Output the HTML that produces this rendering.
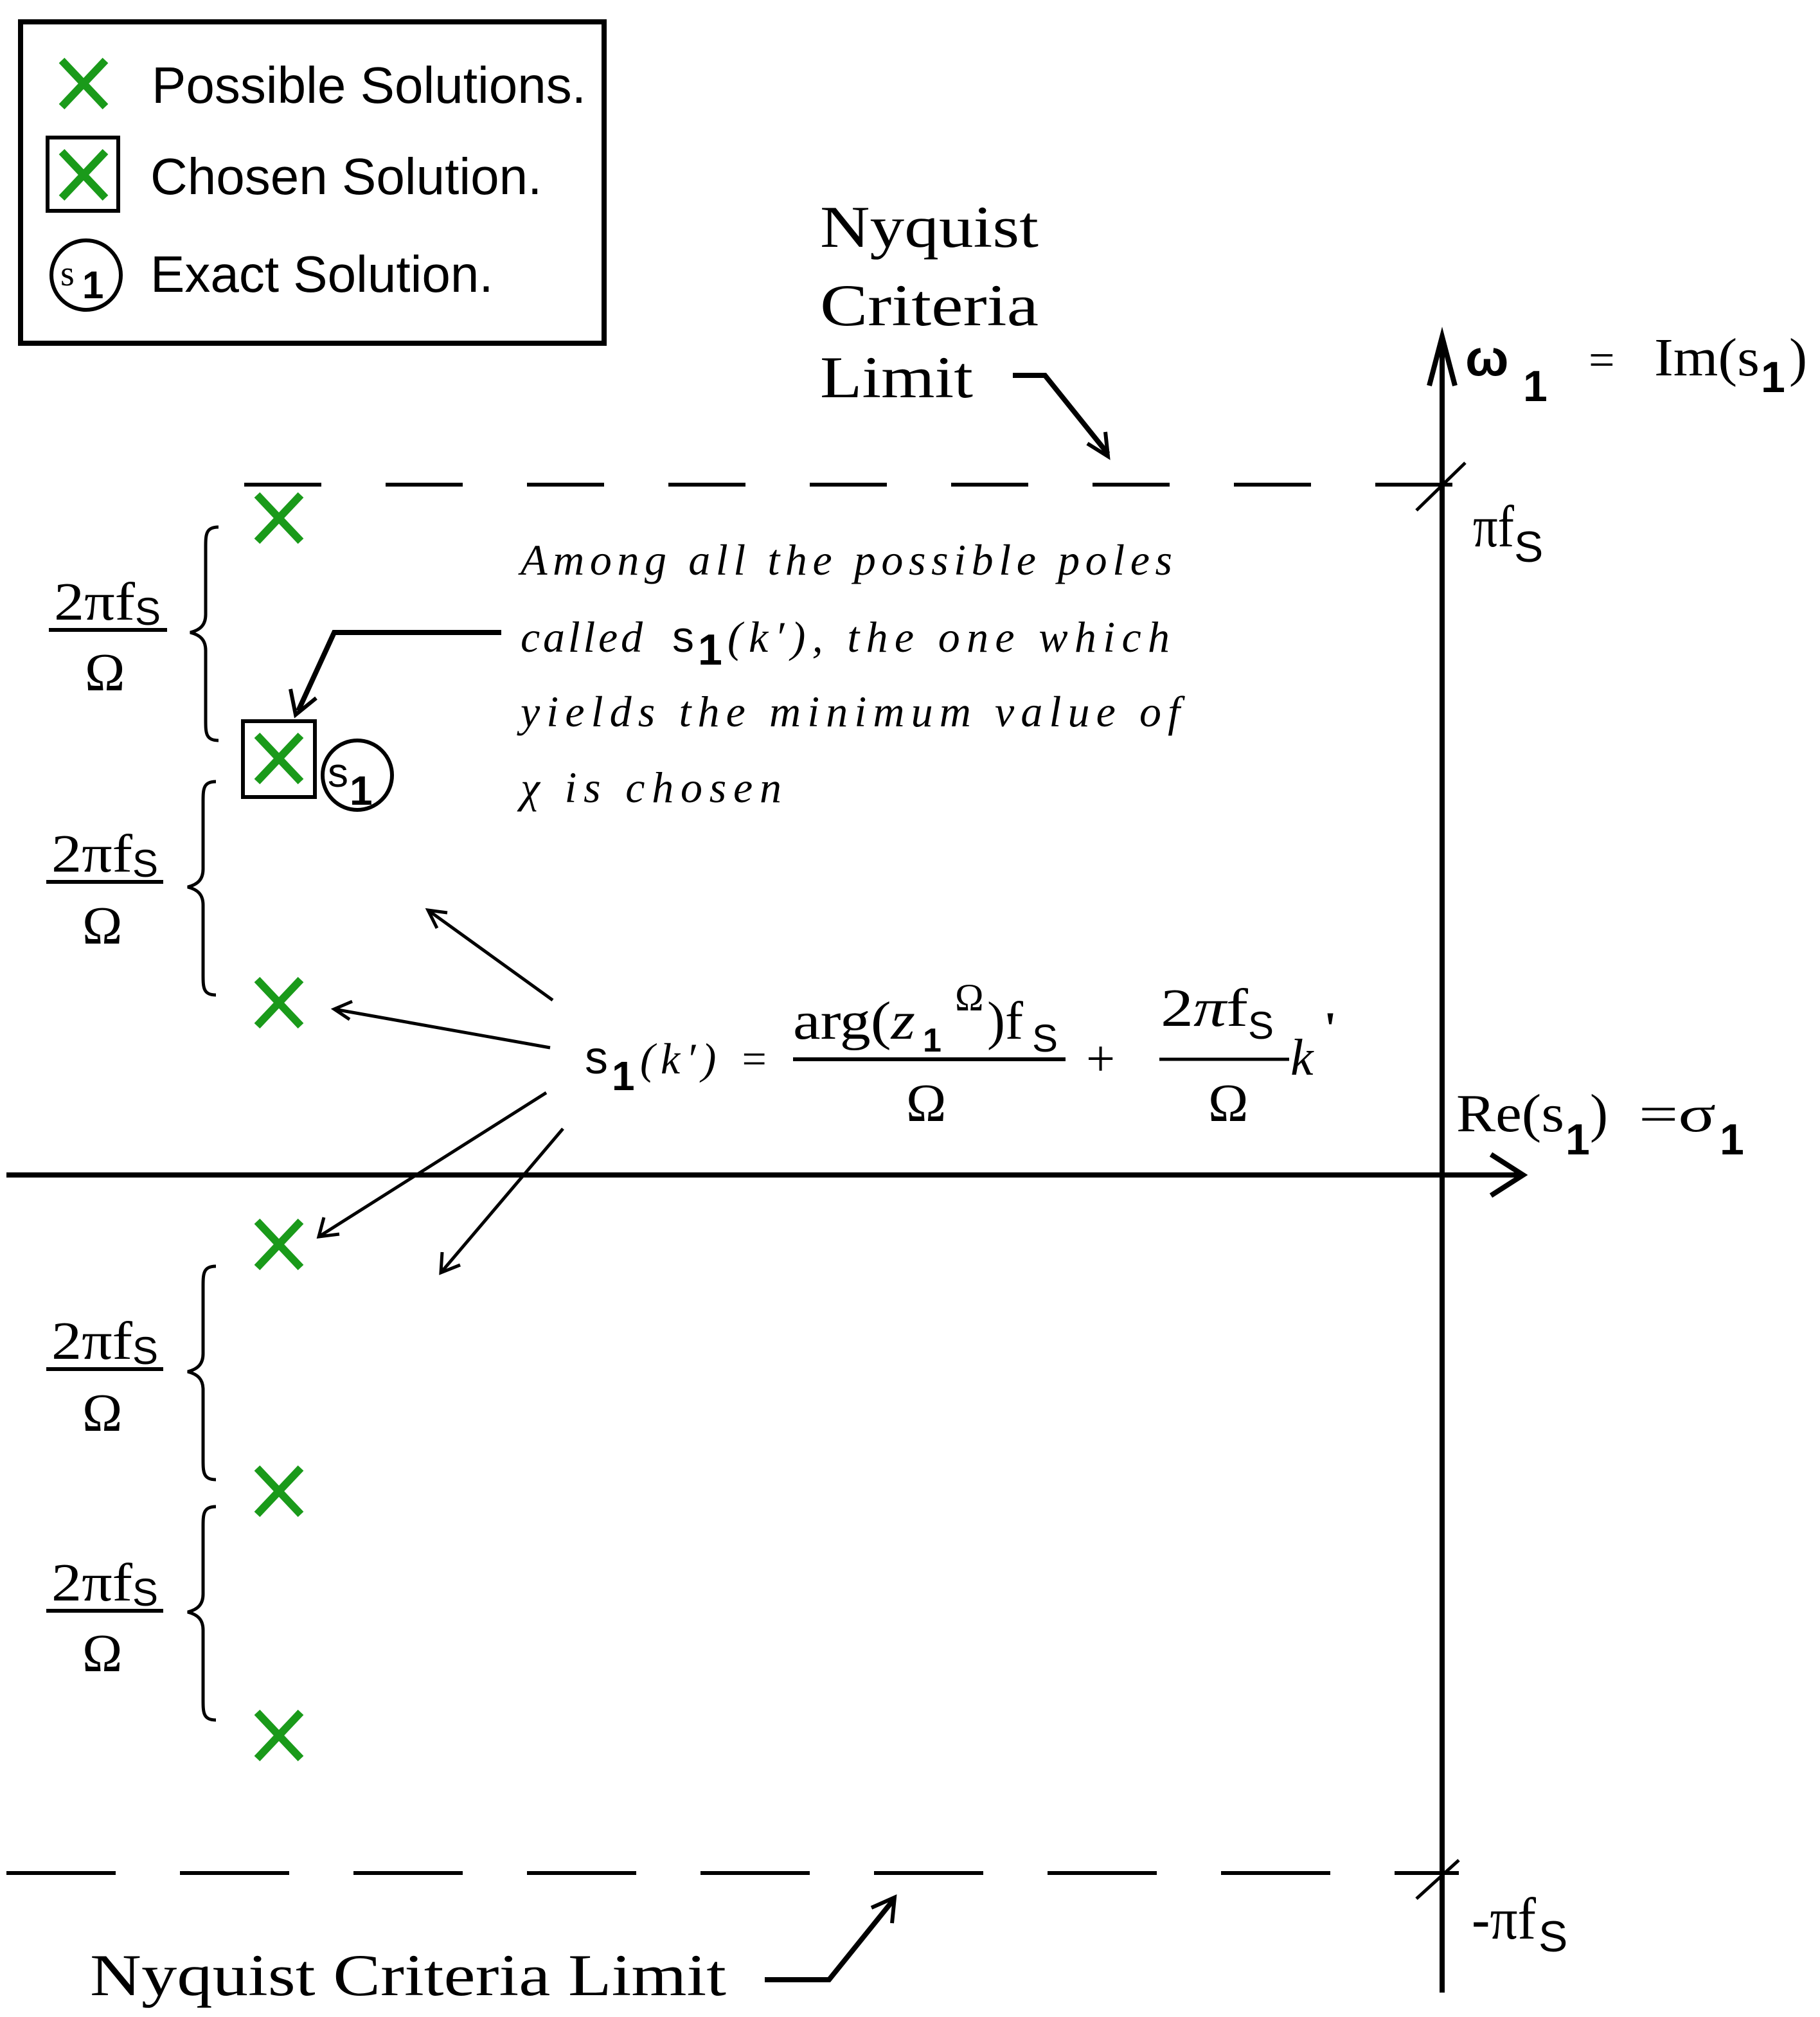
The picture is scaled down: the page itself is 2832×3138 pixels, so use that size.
<!DOCTYPE html>
<html><head><style>html,body{margin:0;padding:0;background:#fff}svg{display:block}</style></head>
<body>
<svg width="2832" height="3138" viewBox="0 0 1416 1569" xmlns="http://www.w3.org/2000/svg">
<defs>
<g id="x"><path d="M-17,-18 L17,18 M17,-18 L-17,18" stroke="#1a9a1a" stroke-width="6" fill="none"/></g>
<path id="brace" d="M10,0 C0,0 0,6 0,16 L0,68 C0,76 -4,80 -12,82 C-4,84 0,88 0,96 L0,150 C0,160 0,166 10,166" fill="none" stroke="#000" stroke-width="2.5"/>
</defs>
<g font-family="Liberation Sans, sans-serif">
<rect x="16" y="17" width="454" height="250" fill="none" stroke="#000" stroke-width="4"/>
<use href="#x" x="65" y="65"/>
<text x="118" y="80" font-size="40">Possible Solutions.</text>
<rect x="37" y="107" width="55" height="57" fill="none" stroke="#000" stroke-width="3"/>
<use href="#x" x="65" y="136"/>
<text x="117" y="151" font-size="40">Chosen Solution.</text>
<circle cx="67" cy="214" r="27" fill="none" stroke="#000" stroke-width="3"/>
<text x="47" y="222" font-size="28" font-family="Liberation Serif, serif">s</text>
<text x="64" y="232" font-size="30" font-weight="bold">1</text>
<text x="117" y="227" font-size="40">Exact Solution.</text>
</g>
<g font-family="Liberation Serif, serif">
<line x1="1122" y1="268" x2="1122" y2="1550" stroke="#000" stroke-width="4"/>
<path d="M1112,300 L1122,262 L1132,300" fill="none" stroke="#000" stroke-width="4"/>
<line x1="5" y1="914" x2="1183" y2="914" stroke="#000" stroke-width="4"/>
<path d="M1160,898 L1185,914 L1160,930" fill="none" stroke="#000" stroke-width="4"/>
<line x1="190" y1="377" x2="1180" y2="377" stroke="#000" stroke-width="3" stroke-dasharray="60,50"/>
<line x1="5" y1="1457" x2="1135" y2="1457" stroke="#000" stroke-width="3" stroke-dasharray="85,50"/>
<line x1="1102" y1="397" x2="1140" y2="360" stroke="#000" stroke-width="2.5"/>
<line x1="1102" y1="1477" x2="1135" y2="1447" stroke="#000" stroke-width="2.5"/>
<text x="1140" y="292" font-size="40" font-weight="bold" font-family="Liberation Sans, sans-serif">ω</text>
<text x="1185" y="312" font-size="34" font-weight="bold" font-family="Liberation Sans, sans-serif">1</text>
<text x="1236" y="292" font-size="36">=</text>
<text x="1287" y="292" font-size="42" textLength="82" lengthAdjust="spacingAndGlyphs">Im(s</text>
<text x="1370" y="305" font-size="34" font-weight="bold" font-family="Liberation Sans, sans-serif">1</text>
<text x="1392" y="292" font-size="42">)</text>
<text x="1146" y="425" font-size="46" textLength="32" lengthAdjust="spacingAndGlyphs">πf</text>
<text x="1178" y="437" font-size="34" font-family="Liberation Sans, sans-serif">S</text>
<text x="1145" y="1508" font-size="46" textLength="50" lengthAdjust="spacingAndGlyphs">-πf</text>
<text x="1197" y="1518" font-size="34" font-family="Liberation Sans, sans-serif">S</text>
<text x="1133" y="880" font-size="42" textLength="84" lengthAdjust="spacingAndGlyphs">Re(s</text>
<text x="1218" y="898" font-size="34" font-weight="bold" font-family="Liberation Sans, sans-serif">1</text>
<text x="1237" y="880" font-size="42">)</text>
<text x="1275" y="880" font-size="40" textLength="60" lengthAdjust="spacingAndGlyphs">=σ</text>
<text x="1338" y="898" font-size="34" font-weight="bold" font-family="Liberation Sans, sans-serif">1</text>
<text x="638" y="192" font-size="46" textLength="170" lengthAdjust="spacingAndGlyphs">Nyquist</text>
<text x="638" y="253" font-size="46" textLength="170" lengthAdjust="spacingAndGlyphs">Criteria</text>
<text x="638" y="309" font-size="46" textLength="119" lengthAdjust="spacingAndGlyphs">Limit</text>
<path d="M788,292 L813,292 L862,353" fill="none" stroke="#000" stroke-width="4"/>
<path d="M846,345 L862,355 L860,336" fill="none" stroke="#000" stroke-width="3"/>
<text x="70" y="1552" font-size="46" textLength="495" lengthAdjust="spacingAndGlyphs">Nyquist Criteria Limit</text>
<path d="M595,1540 L645,1540 L695,1478" fill="none" stroke="#000" stroke-width="4"/>
<path d="M678,1484 L696,1476 L694,1496" fill="none" stroke="#000" stroke-width="3"/>
<use href="#x" x="217" y="403"/>
<use href="#x" x="217" y="590"/>
<rect x="189" y="561" width="56" height="59" fill="none" stroke="#000" stroke-width="3"/>
<circle cx="278" cy="603" r="27" fill="none" stroke="#000" stroke-width="3"/>
<text x="255" y="612" font-size="32" font-family="Liberation Sans, sans-serif">s</text>
<text x="272" y="626" font-size="32" font-weight="bold" font-family="Liberation Sans, sans-serif">1</text>
<use href="#x" x="217" y="780"/>
<use href="#x" x="217" y="968"/>
<use href="#x" x="217" y="1160"/>
<use href="#x" x="217" y="1350"/>
<use href="#brace" x="160" y="410"/>
<use href="#brace" x="158" y="608"/>
<use href="#brace" x="158" y="985"/>
<use href="#brace" x="158" y="1172"/>
<g font-size="42">
<text x="42" y="482" textLength="63" lengthAdjust="spacingAndGlyphs">2πf</text><text x="105" y="486" font-size="30" font-family="Liberation Sans, sans-serif">S</text>
<line x1="38" y1="490" x2="130" y2="490" stroke="#000" stroke-width="3"/>
<text x="66" y="537">Ω</text>
<text x="40" y="678" textLength="63" lengthAdjust="spacingAndGlyphs">2πf</text><text x="103" y="682" font-size="30" font-family="Liberation Sans, sans-serif">S</text>
<line x1="36" y1="686" x2="127" y2="686" stroke="#000" stroke-width="3"/>
<text x="64" y="734">Ω</text>
<text x="40" y="1057" textLength="63" lengthAdjust="spacingAndGlyphs">2πf</text><text x="103" y="1061" font-size="30" font-family="Liberation Sans, sans-serif">S</text>
<line x1="36" y1="1065" x2="127" y2="1065" stroke="#000" stroke-width="3"/>
<text x="64" y="1113">Ω</text>
<text x="40" y="1245" textLength="63" lengthAdjust="spacingAndGlyphs">2πf</text><text x="103" y="1249" font-size="30" font-family="Liberation Sans, sans-serif">S</text>
<line x1="36" y1="1253" x2="127" y2="1253" stroke="#000" stroke-width="3"/>
<text x="64" y="1300">Ω</text>
</g>
<g font-size="34" font-style="italic">
<text x="405" y="447" textLength="507">Among all the possible poles</text>
<text x="405" y="507" textLength="95">called</text>
<text x="523" y="507" font-style="normal" font-family="Liberation Sans, sans-serif">s</text>
<text x="543" y="517" font-style="normal" font-weight="bold" font-family="Liberation Sans, sans-serif">1</text>
<text x="566" y="507" textLength="344">(k′),  the one which</text>
<text x="405" y="565" textLength="513">yields the minimum value of</text>
<text x="405" y="624" textLength="203">χ is chosen</text>
</g>
<path d="M390,492 L260,492 L232,553" fill="none" stroke="#000" stroke-width="4"/>
<path d="M226,536 L230,556 L246,543" fill="none" stroke="#000" stroke-width="3"/>
<g stroke="#000" stroke-width="2.5" fill="none">
<line x1="430" y1="778" x2="333" y2="708"/><path d="M348,710 L333,708 L340,722"/>
<line x1="428" y1="815" x2="260" y2="785"/><path d="M274,779 L260,785 L272,793"/>
<line x1="425" y1="850" x2="248" y2="962"/><path d="M252,947 L248,962 L264,960"/>
<line x1="438" y1="878" x2="343" y2="990"/><path d="M344,974 L343,990 L358,984"/>
</g>
<text x="455" y="835" font-size="36" font-family="Liberation Sans, sans-serif">s</text>
<text x="476" y="848" font-size="32" font-weight="bold" font-family="Liberation Sans, sans-serif">1</text>
<text x="498" y="835" font-size="34" font-style="italic" textLength="100">(k′) =</text>
<text x="617" y="808" font-size="42" textLength="95" lengthAdjust="spacingAndGlyphs">arg(<tspan font-style="italic">z</tspan></text>
<text x="718" y="818" font-size="26" font-weight="bold" font-family="Liberation Sans, sans-serif">1</text>
<text x="743" y="786" font-size="30">Ω</text>
<text x="768" y="808" font-size="42">)f</text>
<text x="803" y="818" font-size="30" font-family="Liberation Sans, sans-serif">S</text>
<line x1="617" y1="824" x2="829" y2="824" stroke="#000" stroke-width="3"/>
<text x="705" y="872" font-size="42">Ω</text>
<text x="845" y="837" font-size="40">+</text>
<text x="903" y="798" font-size="42" textLength="68" lengthAdjust="spacingAndGlyphs">2<tspan font-style="italic">π</tspan>f</text>
<text x="971" y="808" font-size="30" font-family="Liberation Sans, sans-serif">S</text>
<line x1="902" y1="824" x2="1003" y2="824" stroke="#000" stroke-width="2.5"/>
<text x="940" y="872" font-size="42">Ω</text>
<text x="1004" y="836" font-size="40" font-style="italic">k</text>
<text x="1030" y="812" font-size="36" font-weight="bold">'</text>
</g>
</svg>
</body></html>
